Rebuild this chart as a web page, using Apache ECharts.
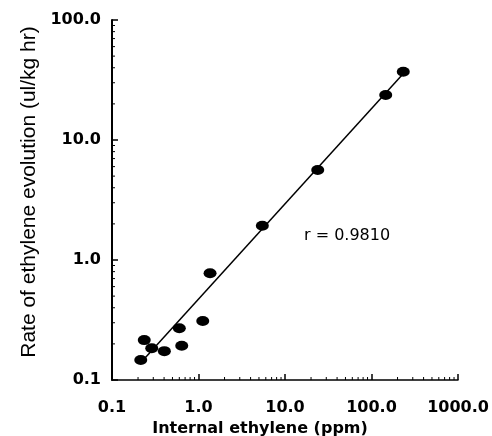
<!DOCTYPE html>
<html>
<head>
<meta charset="utf-8">
<script src="https://cdn.jsdelivr.net/npm/echarts@6/dist/echarts.min.js"></script>
<style>
  html, body { margin: 0; padding: 0; background: #fff; }
  #chart { width: 492px; height: 436px; }
</style>
</head>
<body>
<div id="chart"></div>
<script>
// internal ethylene (ppm) vs rate of ethylene evolution (ul/kg hr)
const internalEthylene = [0.215, 0.236, 0.288, 0.403, 0.600, 0.640, 1.12, 1.36, 5.47, 23.9, 146, 233];
const evolutionRate = [0.147, 0.215, 0.184, 0.174, 0.270, 0.193, 0.310, 0.775, 1.93, 5.62, 23.7, 37.1];

// regression line end points
const fitX = [0.22, 231];
const fitY = [0.142, 35.5];

const xRange = [0.1, 1000];
const yRange = [0.1, 100];
const minorSteps = [2, 3, 4, 5, 6, 7, 8, 9];
const rText = 'r = 0.9810';

const decadesIn = (lo, hi) => {
  const out = [];
  for (let d = lo; d < hi * 0.999; d *= 10) out.push(d);
  return out;
};
const xMinor = [];
decadesIn(xRange[0], xRange[1]).forEach(d => minorSteps.forEach(m => xMinor.push([d * m, yRange[0]])));
const yMinor = [];
decadesIn(yRange[0], yRange[1]).forEach(d => minorSteps.forEach(m => yMinor.push([xRange[0], d * m])));

const chart = echarts.init(document.getElementById('chart'));
const labelFont = { color: '#000', fontFamily: 'DejaVu Sans', fontWeight: 'bold', fontSize: 16 };

const tickRenderer = (horizontal) => (params, api) => {
  const p = api.coord([api.value(0), api.value(1)]);
  return {
    type: 'line',
    shape: horizontal
      ? { x1: p[0], y1: p[1], x2: p[0], y2: p[1] - 3 }
      : { x1: p[0], y1: p[1], x2: p[0] + 3, y2: p[1] },
    style: { stroke: '#000', lineWidth: 1 }
  };
};

chart.setOption({
  animation: false,
  backgroundColor: '#fff',
  grid: { left: 112, right: 34, top: 20, bottom: 56, containLabel: false, outerBoundsMode: 'none' },
  xAxis: {
    type: 'log',
    logBase: 10,
    min: xRange[0],
    max: xRange[1],
    name: 'Internal ethylene (ppm)',
    nameLocation: 'middle',
    nameGap: 37,
    nameTextStyle: { ...labelFont, padding: [0, 50, 0, 0] },
    axisLine: { lineStyle: { color: '#000', width: 1.5 } },
    axisTick: { inside: true, length: 6, lineStyle: { color: '#000', width: 1.5 } },
    axisLabel: { ...labelFont, margin: 20, formatter: v => Number(v).toFixed(1) },
    splitLine: { show: false }
  },
  yAxis: {
    type: 'log',
    logBase: 10,
    min: yRange[0],
    max: yRange[1],
    name: 'Rate of ethylene evolution (ul/kg hr)',
    nameLocation: 'middle',
    nameGap: 53,
    nameTextStyle: {
      color: '#000', fontFamily: 'Liberation Sans', fontSize: 21,
      padding: [0, 0, 0, 16]
    },
    axisLine: { lineStyle: { color: '#000', width: 2 } },
    axisTick: { inside: true, length: 6, lineStyle: { color: '#000', width: 1.5 } },
    axisLabel: { ...labelFont, margin: 11, formatter: v => Number(v).toFixed(1) },
    splitLine: { show: false }
  },
  graphic: [{
    type: 'text',
    left: 304,
    top: 228,
    style: { text: rText, fill: '#000', font: '16px "DejaVu Sans"' }
  }],
  series: [
    {
      type: 'line',
      data: fitX.map((x, i) => [x, fitY[i]]),
      symbol: 'none',
      lineStyle: { color: '#000', width: 1.5 },
      z: 3
    },
    {
      type: 'scatter',
      data: internalEthylene.map((x, i) => [x, evolutionRate[i]]),
      symbol: 'circle',
      symbolSize: [13, 10],
      itemStyle: { color: '#000', opacity: 1 },
      z: 4
    },
    {
      type: 'custom',
      data: xMinor,
      renderItem: tickRenderer(true),
      clip: false,
      silent: true
    },
    {
      type: 'custom',
      data: yMinor,
      renderItem: tickRenderer(false),
      clip: false,
      silent: true
    }
  ]
});
</script>
</body>
</html>
